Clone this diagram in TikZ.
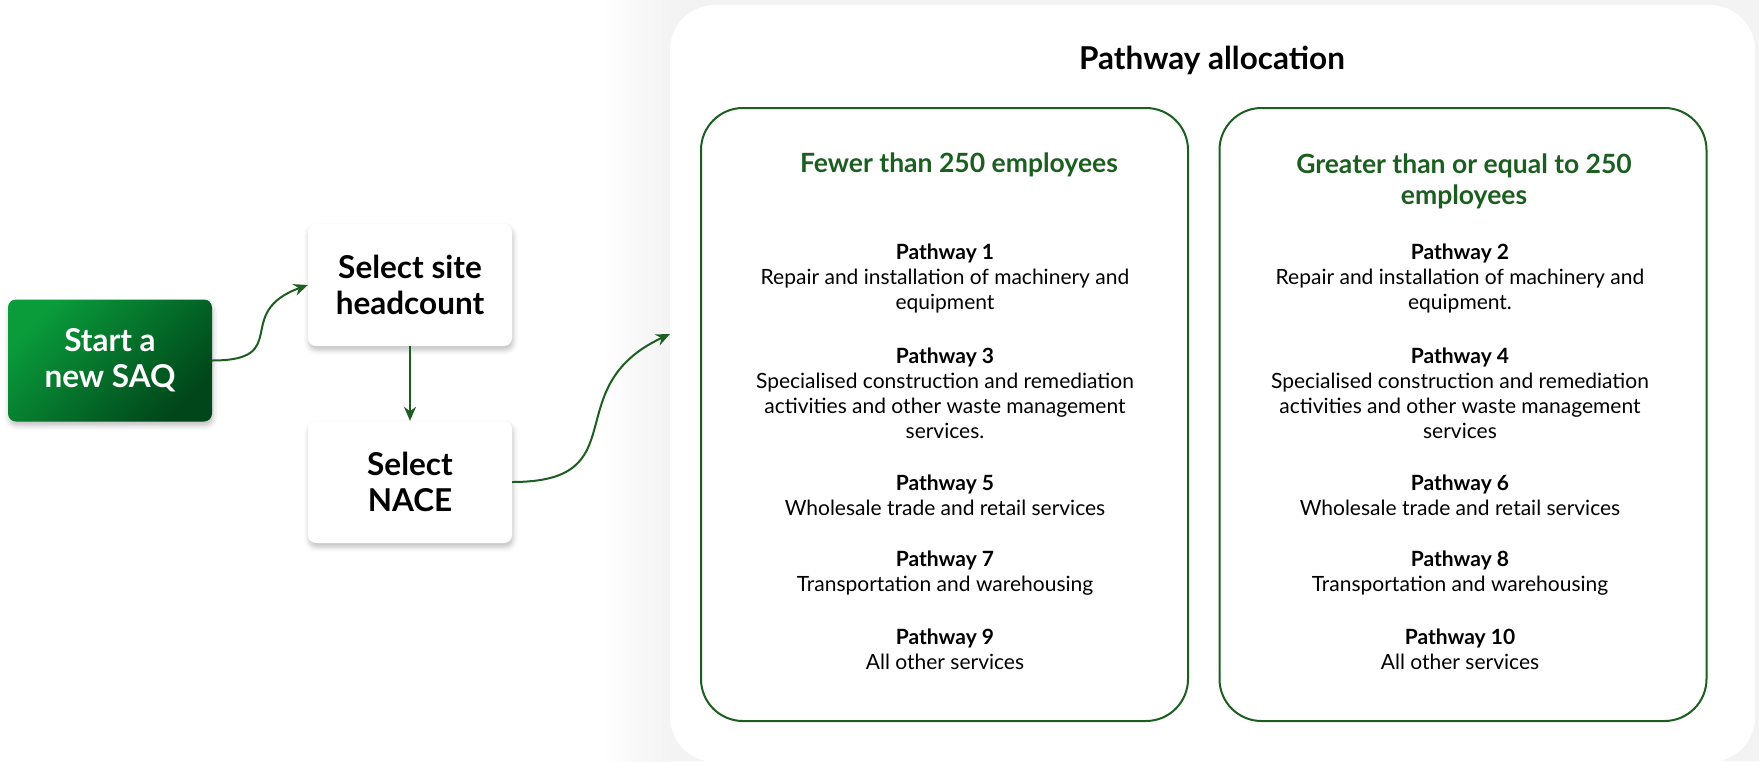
\documentclass[tikz,border=0pt]{standalone}
\usepackage{fontspec}
\setmainfont{Lato}
\usetikzlibrary{arrows.meta,shadows.blur}
\definecolor{pathgreen}{HTML}{1B5E20}
\definecolor{startlight}{HTML}{0A9C3B}
\definecolor{startdark}{HTML}{00461A}
\definecolor{panelgray}{HTML}{F3F3F3}
\tikzset{
  stepbox/.style={rounded corners=8pt, minimum width=204pt, minimum height=122pt,
    align=center, font=\fontsize{31.5}{36}\selectfont\bfseries,
    blur shadow={shadow xshift=1pt, shadow yshift=-4pt, shadow blur radius=5pt, shadow opacity=25}},
  flow/.style={draw=pathgreen, line width=2pt, -{Stealth[length=14pt,width=12pt]}},
  group/.style={draw=pathgreen, line width=2pt, rounded corners=42pt,
    minimum width=487pt, minimum height=613pt},
  item/.style={anchor=north, align=center, inner sep=0pt, text=black,
    font=\fontsize{21}{25}\selectfont},
  heading/.style={align=center, inner sep=0pt, text=pathgreen,
    font=\fontsize{26.5}{31}\selectfont\bfseries},
}
\begin{document}
\begin{tikzpicture}[x=1pt,y=-1pt]
\useasboundingbox (0,0) rectangle (1759,761);
% backdrop of the allocation panel
\fill[panelgray] (670,0) rectangle (1759,761);
\shade[left color=white, right color=panelgray] (600,0) rectangle (670,761);
\node[fill=white, rounded corners=45pt, minimum width=1085pt, minimum height=757pt] (alloc) at (1212.5,383.5) {};
\node[font=\fontsize{31.5}{36}\selectfont\bfseries] (title) at (1212,60) {Pathway allocation};
%
\node[group] (small) at (944.5,414.5) {};
\node[group] (large) at (1463,414.5) {};
\node[heading] (smallhead) at (959,165) {Fewer than 250 employees};
\node[heading] (largehead) at (1464,181) {Greater than or equal to 250\\employees};
%
\node[item] (p1) at (945,244) {\textbf{Pathway 1}\\Repair and installation of machinery and\\equipment};
\node[item] (p3) at (945,348) {\textbf{Pathway 3}\\Specialised construction and remediation\\activities and other waste management\\services.};
\node[item] (p5) at (945,475) {\textbf{Pathway 5}\\Wholesale trade and retail services};
\node[item] (p7) at (945,551) {\textbf{Pathway 7}\\Transportation and warehousing};
\node[item] (p9) at (945,629) {\textbf{Pathway 9}\\All other services};
%
\node[item] (p2) at (1460,244) {\textbf{Pathway 2}\\Repair and installation of machinery and\\equipment.};
\node[item] (p4) at (1460,348) {\textbf{Pathway 4}\\Specialised construction and remediation\\activities and other waste management\\services};
\node[item] (p6) at (1460,475) {\textbf{Pathway 6}\\Wholesale trade and retail services};
\node[item] (p8) at (1460,551) {\textbf{Pathway 8}\\Transportation and warehousing};
\node[item] (p10) at (1460,629) {\textbf{Pathway 10}\\All other services};
%
\node[stepbox, top color=startlight, bottom color=startdark, shading angle=45, text=white] (start) at (110,360.5) {Start a\\new SAQ};
\node[stepbox, fill=white] (head) at (410,285) {Select site\\headcount};
\node[stepbox, fill=white] (nace) at (410,482) {Select\\NACE};
\coordinate (entry) at (670,334);
%
\draw[flow] (start.east) to[out=0,in=200,looseness=1.7] (head.west);
\draw[flow] (head) -- (nace);
\draw[flow] (nace.east) to[out=0,in=205,looseness=1.5] (entry);
\end{tikzpicture}
\end{document}
